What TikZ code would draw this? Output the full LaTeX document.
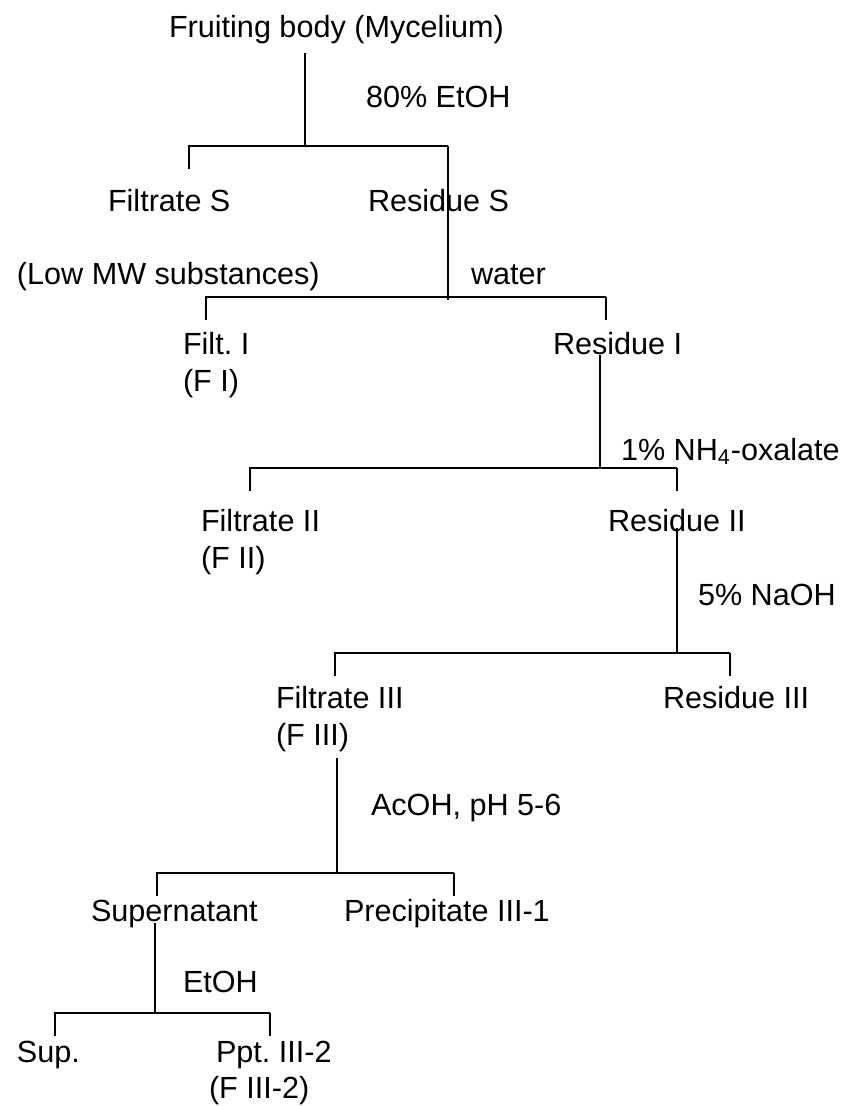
\documentclass[tikz,border=0pt]{standalone}
\usepackage{fontspec}
\setmainfont{Liberation Sans}
\frenchspacing
\tikzset{>=latex}

\begin{document}
\begin{tikzpicture}[x=0.5pt, y=-0.5pt, line width=1pt,
    lbl/.style={anchor=base west, inner sep=0pt, font=\fontsize{15.3pt}{18pt}\selectfont}]
    \useasboundingbox (0,0) rectangle (843,1106);
    % fractions
    \node [lbl] (root) at (168,38) {Fruiting body (Mycelium)};
    \node [lbl] (filt S) at (107,212) {Filtrate S};
    \node [lbl] (res S) at (367,212) {Residue S};
    \node [lbl] (low MW) at (16,285) {(Low MW substances)};
    \node [lbl] (filt I) at (182,355) {Filt. I};
    \node [lbl] (F I) at (182,392) {(F I)};
    \node [lbl] (res I) at (552,355) {Residue I};
    \node [lbl] (filt II) at (200,531) {Filtrate II};
    \node [lbl] (F II) at (200,568) {(F II)};
    \node [lbl] (res II) at (607,531) {Residue II};
    \node [lbl] (filt III) at (275,708) {Filtrate III};
    \node [lbl] (F III) at (275,745) {(F III)};
    \node [lbl] (res III) at (662,708) {Residue III};
    \node [lbl] (super) at (90,921) {Supernatant};
    \node [lbl] (ppt III1) at (343,921) {Precipitate III-1};
    \node [lbl] (sup) at (16,1062) {Sup.};
    \node [lbl] (ppt III2) at (215,1062) {Ppt. III-2};
    \node [lbl] (F III2) at (208,1098) {(F III-2)};
    % reagents
    \node [lbl] (r ethanol) at (365,108) {80\% EtOH};
    \node [lbl] (r water) at (470,285) {water};
    \node [lbl] (r oxalate) at (620,460) {1\% NH\textsubscript{4}-oxalate};
    \node [lbl] (r naoh) at (697,605) {5\% NaOH};
    \node [lbl] (r acoh) at (370,815) {AcOH, pH 5-6};
    \node [lbl] (r etoh) at (182,992) {EtOH};
    % splits: name/left/stem/right/height
    \foreach \bname/\l/\m/\r/\y in {ethanol/189/305/448/146, water/206/448/606/297,
            oxalate/250/600/677/468, naoh/335/677/730/653, acoh/157/337/454/873,
            etoh/55/155/270/1013} {
        \coordinate (left \bname) at (\l,\y);
        \coordinate (mid \bname) at (\m,\y);
        \coordinate (right \bname) at (\r,\y);
        \coordinate (tick left \bname) at (\l,\y+23);
        \coordinate (tick right \bname) at (\r,\y+23);
        \draw (tick left \bname) -- (left \bname) -- (right \bname);
    }
    \foreach \bname in {water, oxalate, naoh, acoh, etoh}
        \draw (right \bname) -- (tick right \bname);
    % stems
    \coordinate (top ethanol) at (mid ethanol |- root.south);
    \coordinate (top oxalate) at (mid oxalate |- res I.base);
    \coordinate (top naoh) at (mid naoh |- res II.base);
    \coordinate (top acoh) at (mid acoh |- F III.south);
    \coordinate (top etoh) at (mid etoh |- super.base);
    \draw ([yshift=-4pt]top ethanol) -- (mid ethanol);
    \draw (right ethanol) -- ([yshift=-1.5pt]mid water);
    \draw (top oxalate) -- (mid oxalate);
    \draw ([yshift=1.5pt]top naoh) -- (mid naoh);
    \draw ([yshift=-3pt]top acoh) -- (mid acoh);
    \draw ([yshift=-1pt]top etoh) -- (mid etoh);
\end{tikzpicture}
\end{document}
